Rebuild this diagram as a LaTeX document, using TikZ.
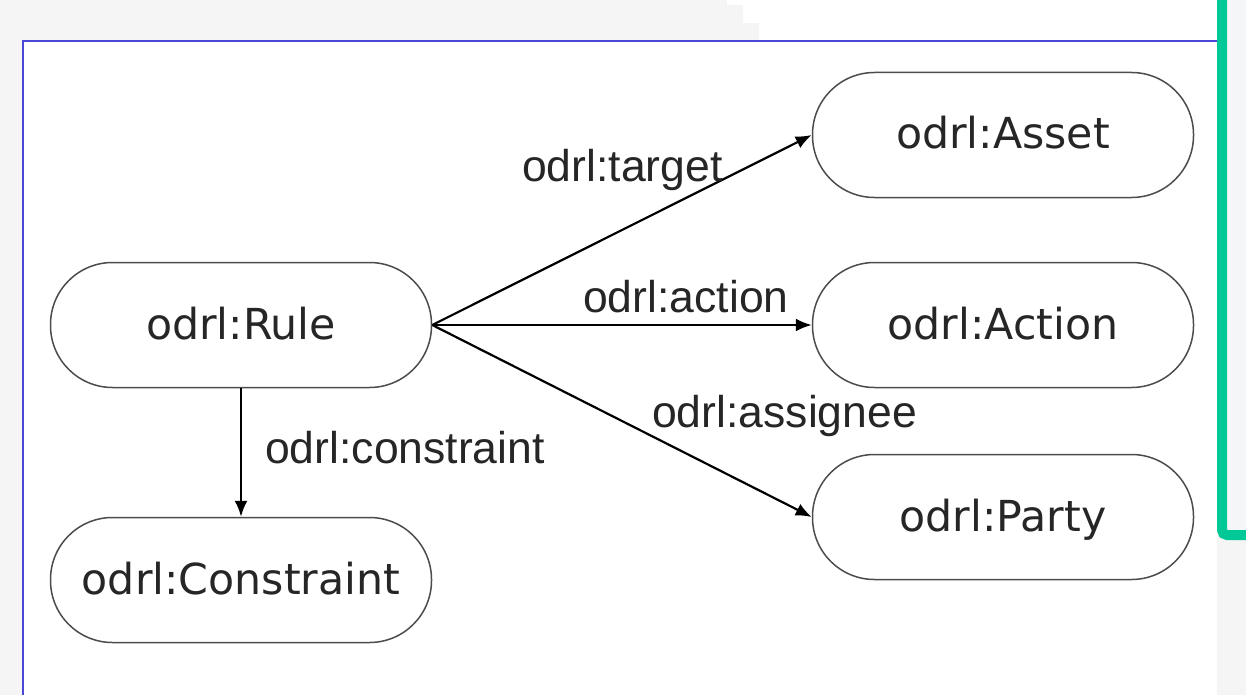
\documentclass[tikz,border=0pt]{standalone}
\usepackage{fontspec}
\setmainfont{Liberation Sans}
\newfontfamily\classfont{DejaVu Sans}
\usetikzlibrary{arrows.meta}

\definecolor{framecol}{RGB}{72,72,212}
\definecolor{barcol}{RGB}{0,200,150}
\definecolor{pagecol}{RGB}{245,245,245}
\definecolor{panelcol}{RGB}{245,246,248}

\begin{document}
\begin{tikzpicture}[x=1pt,y=-1pt,
	klass/.style={draw=black!70, line width=1.5pt, rounded corners=62pt,
		minimum width=381pt, minimum height=125pt, inner sep=0pt,
		text height=32pt, text depth=4pt, text=black!85,
		font=\classfont\fontsize{42.7}{50}\selectfont},
	prop/.style={anchor=base west, inner sep=0pt, text=black!85,
		font=\fontsize{44.5}{50}\selectfont},
	rel/.style={-{Latex[length=16pt,width=13pt]}, line width=2.2pt, black}]
	\newcommand\lx{241}
	\newcommand\rx{1003}
	\newcommand\ymid{325}

	\useasboundingbox (0,0) rectangle (1246,695);
	\fill[pagecol] (0,0) rectangle (1246,695);
	\fill[white] (727,0) -- (1217,0) -- (1217,41) -- (759,41) -- (759,23)
		-- (743,23) -- (743,5) -- (727,5) -- cycle;
	\fill[white] (23,41) rectangle (1217,695);
	\draw[framecol, line width=2pt] (23,695) -- (23,41) -- (1217,41);
	\fill[panelcol] (1228,0) rectangle (1246,530);
	\draw[barcol, line width=10pt, rounded corners=5pt] (1222,0) -- (1222,535) -- (1246,535);

	\node[klass] (rule) at (\lx,\ymid) {odrl:Rule};
	\node[klass] (constraint) at (\lx,580) {odrl:Constraint};
	\node[klass] (asset) at (\rx,135) {odrl:Asset};
	\node[klass] (action) at (\rx,\ymid) {odrl:Action};
	\node[klass] (party) at (\rx,517) {odrl:Party};

	\draw[rel] (rule.east) -- (asset.west);
	\draw[rel] (rule.east) -- (action.west);
	\draw[rel] (rule.east) -- (party.west);
	\draw[rel] (rule.south) -- (constraint.north);

	\node[prop] (ltarget) at (522,182) {odrl:target};
	\node[prop] (laction) at (583,312) {odrl:action};
	\node[prop] (lassignee) at (652,427) {odrl:assignee};
	\node[prop] (lconstraint) at (265,463) {odrl:constraint};
\end{tikzpicture}
\end{document}
